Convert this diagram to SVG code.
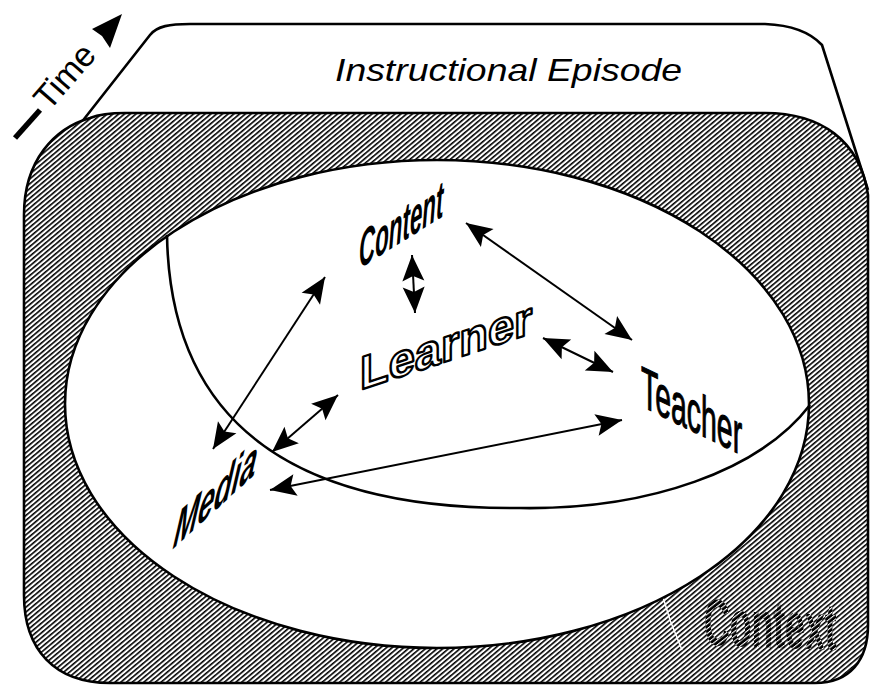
<svg xmlns="http://www.w3.org/2000/svg" width="870" height="686" viewBox="0 0 870 686">
<style>
.ol{fill:none;stroke:#000;stroke-width:2.6;stroke-linejoin:round}
.conn{fill:none;stroke:#000;stroke-width:2;marker-start:url(#ah);marker-end:url(#ah)}
.sans{font-family:"Liberation Sans",Arial,sans-serif}
.ctx{font-family:"Liberation Sans",Arial,sans-serif;font-size:66px;font-weight:bold}
</style>
<defs>
<pattern id="hatch" patternUnits="userSpaceOnUse" width="3.7" height="10" patternTransform="rotate(50)">
<rect x="0" y="0" width="3.7" height="10" fill="#fff"/>
<rect x="0" y="0" width="1.6" height="10" fill="#000"/>
</pattern>
<pattern id="whiteLinesLocal" patternUnits="userSpaceOnUse" width="4.4" height="10" patternTransform="rotate(66)">
<rect x="0" y="0" width="1.2" height="10" fill="#fff"/>
</pattern>
<marker id="ah" viewBox="-28 -13 30 26" refX="0" refY="0" markerWidth="30" markerHeight="26" markerUnits="userSpaceOnUse" orient="auto-start-reverse">
<path d="M0,0 L-26,-11 L-21,0 L-26,11 Z" fill="#000"/>
</marker>
</defs>
<rect x="0" y="0" width="870" height="686" fill="#fff"/>

<g id="episode">
<path class="ol" d="M77,128 L150,35 C157,26 170,24 190,24 L765,24 C790,25 810,32 822,45 L868,190" fill="#fff"/>
<text class="sans" x="335" y="81" font-size="32" font-style="italic" textLength="347" lengthAdjust="spacingAndGlyphs">Instructional Episode</text>
</g>

<g id="context">
<path d="M125,113 L765,113 C820,113 860,140 868,195 L868,625 C868,660 850,683 815,683 L110,683 C55,683 24,650 24,595 L24,215 C24,160 55,128 90,118 C100,114 112,113 125,113 Z" fill="url(#hatch)" stroke="#000" stroke-width="2.6"/>
<polyline points="663,597 670,620 682,650" fill="none" stroke="#fff" stroke-width="1.5"/>
<g transform="matrix(0.54,0.02,0,1,704,645)">
<text class="ctx" x="0" y="0" fill="#000">Context</text>
<text class="ctx" x="0" y="0" fill="url(#whiteLinesLocal)" aria-hidden="true">Context</text>
</g>
</g>

<g id="arena">
<ellipse cx="437" cy="404" rx="372" ry="244" fill="#fff" stroke="#000" stroke-width="2.6"/>
<path class="ol" d="M167,235 C170,420 290,510 520,508 C650,510 760,470 810,405"/>
</g>

<g id="time">
<line x1="15" y1="138" x2="40" y2="110" stroke="#000" stroke-width="5.5"/>
<text class="sans" transform="translate(49,112) rotate(-49)" font-size="34">Time</text>
<polygon points="122,14 92,29 102,36 110,48" fill="#000"/>
</g>

<g id="connectors">
<line class="conn" x1="213" y1="449" x2="325" y2="277"/>
<line class="conn" x1="272" y1="452" x2="338" y2="395"/>
<line class="conn" x1="270" y1="490" x2="622" y2="420"/>
<line class="conn" x1="466" y1="223" x2="632" y2="340"/>
<line class="conn" x1="412" y1="255" x2="415" y2="313"/>
<line class="conn" x1="543" y1="338" x2="613" y2="372"/>
</g>

<g id="content">
<text class="sans" transform="matrix(0.43,-0.27,0,1,359,269)" font-size="52" font-style="italic" font-weight="bold">Content</text>
</g>
<g id="learner">
<text class="sans" transform="matrix(1,-0.33,0,1,360,390)" font-size="47" font-weight="bold" fill="#fff" stroke="#000" stroke-width="2.4" stroke-linejoin="round">Learner</text>
</g>
<g id="teacher">
<text class="sans" transform="matrix(0.49,0.239,0,1,641,406)" font-size="58" stroke="#000" stroke-width="1.2">Teacher</text>
</g>
<g id="media">
<text class="sans" transform="matrix(0.54,-0.495,-0.15,1,172,550)" font-size="54" font-style="italic" font-weight="bold">Media</text>
</g>
</svg>
